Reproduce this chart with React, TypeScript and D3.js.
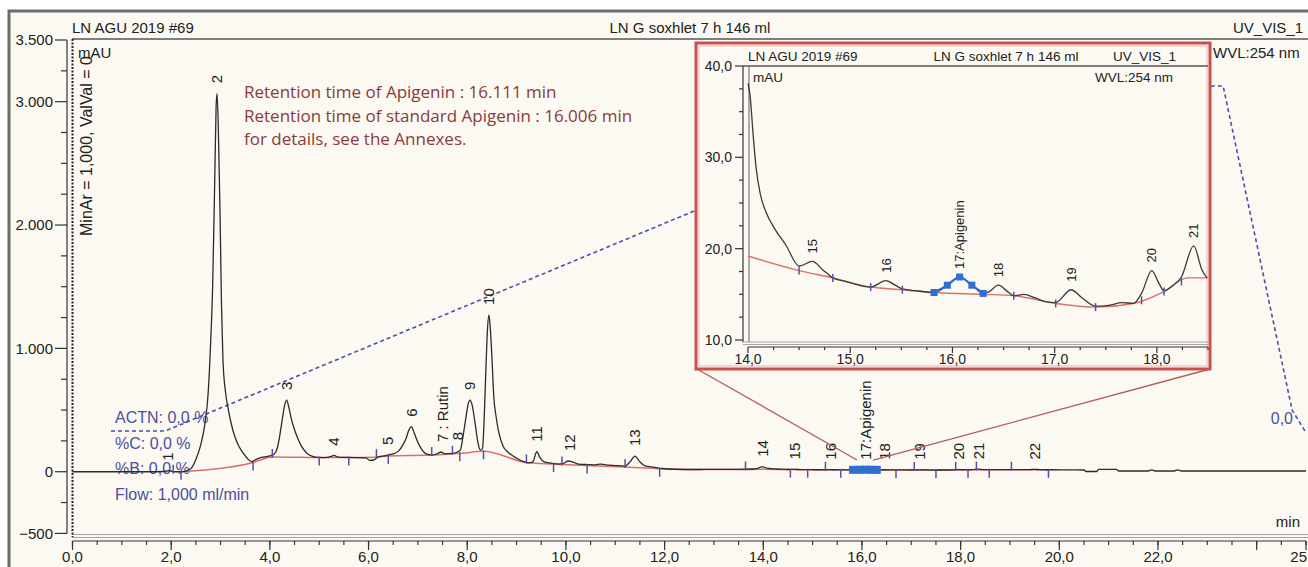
import React from 'react';
import * as d3 from 'd3';

// main chromatogram (mAU vs min), the 14–18.5 min part comes from the zoom arrays
const traceTime = [0, 1.5, 1.85, 1.94, 2.05, 2.2, 2.3, 2.4, 2.5, 2.6, 2.68, 2.75, 2.8, 2.84, 2.88, 2.91, 2.93, 2.96, 2.99, 3.02, 3.05, 3.1, 3.16, 3.22, 3.29, 3.38, 3.46, 3.55, 3.63, 3.7, 3.8, 3.9, 4.0, 4.08, 4.15, 4.2, 4.25, 4.3, 4.34, 4.38, 4.44, 4.5, 4.58, 4.66, 4.75, 4.85, 4.95, 5.1, 5.25, 5.3, 5.38, 5.7, 5.95, 6.02, 6.1, 6.2, 6.35, 6.42, 6.5, 6.6, 6.7, 6.76, 6.82, 6.87, 6.92, 6.98, 7.05, 7.12, 7.2, 7.3, 7.4, 7.47, 7.55, 7.7, 7.8, 7.86, 7.92, 7.97, 8.02, 8.06, 8.1, 8.16, 8.22, 8.27, 8.31, 8.35, 8.38, 8.41, 8.44, 8.47, 8.5, 8.54, 8.58, 8.63, 8.73, 8.82, 8.9, 9.0, 9.14, 9.25, 9.33, 9.41, 9.48, 9.56, 9.7, 9.85, 9.95, 10.05, 10.12, 10.25, 10.45, 10.6, 10.7, 10.8, 11.0, 11.2, 11.3, 11.4, 11.5, 11.6, 11.8, 11.95, 12.2, 12.6, 13.0, 13.5, 13.8, 13.9, 13.96,
  18.55, 18.7, 18.9, 19.1, 19.4, 19.5, 19.6, 19.8, 20.3, 20.5, 20.54, 20.76, 20.8, 21.16, 21.2, 21.8, 21.87, 21.94, 22.33, 22.4, 22.48, 25];
const traceMau = [0, 0, 2, 8, 0, 0, 5, 25, 100, 220, 380, 640, 1050, 1500, 2300, 2950, 3068, 2700, 2100, 1350, 900, 650, 500, 385, 285, 200, 150, 105, 82, 95, 112, 120, 128, 140, 190, 290, 420, 540, 581, 530, 420, 340, 258, 195, 150, 126, 116, 115, 125, 132, 118, 115, 112, 92, 95, 120, 130, 138, 145, 165, 220, 270, 340, 365, 320, 258, 200, 160, 140, 135, 148, 160, 145, 148, 160, 175, 300, 430, 550, 581, 540, 392, 230, 175, 190, 500, 850, 1150, 1271, 1150, 932, 600, 460, 338, 205, 160, 135, 110, 82, 72, 80, 162, 110, 80, 70, 62, 68, 87, 82, 62, 58, 56, 62, 56, 50, 46, 80, 127, 80, 48, 36, 26, 20, 18, 19, 19, 22, 30, 40,
  16.5, 16.8, 17.5, 16.5, 17, 19, 17, 16, 15, 14, 2, 2, 19, 19, 6, 6, 15, 6, 6, 15, 6, 6];

const baseTime = [2.2, 3.66, 4.05, 5.0, 5.6, 6.16, 6.4, 7.28, 7.7, 7.89, 8.33, 9.2, 9.75, 10.43, 11.2, 11.9, 12.5, 13.64, 13.99, 18.6, 19.8];
const baseMau = [0, 75, 120, 116, 115, 118, 128, 135, 145, 150, 165, 75, 62, 50, 38, 24, 19, 19, 19.2, 16.8, 15];

// zoomed window 14–18.5 min
const zoomTime = [14.0, 14.02, 14.05, 14.08, 14.12, 14.18, 14.26, 14.37, 14.5, 14.63, 14.73, 14.83, 14.96, 15.12, 15.2, 15.35, 15.44, 15.51, 15.64, 15.82, 15.95, 16.07, 16.19, 16.3, 16.36, 16.45, 16.54, 16.6, 16.7, 16.81, 16.91, 17.01, 17.16, 17.27, 17.4, 17.53, 17.66, 17.77, 17.85, 17.95, 18.02, 18.07, 18.16, 18.24, 18.36, 18.44, 18.49];
const zoomMau = [38.1, 36.8, 32.5, 28.8, 26.0, 23.9, 22.2, 20.4, 18.1, 18.6, 17.7, 16.8, 16.4, 15.9, 15.8, 16.5, 16.0, 15.6, 15.4, 15.2, 16.0, 16.9, 16.0, 15.1, 15.3, 16.0, 15.3, 14.85, 15.0, 14.6, 14.2, 14.1, 15.5, 14.6, 13.7, 13.8, 14.1, 14.0, 15.1, 17.6, 16.2, 15.4, 16.0, 16.9, 20.3, 17.7, 16.8];
const zoomBaseTime = [14.0, 14.5, 14.83, 15.2, 15.51, 15.82, 16.3, 16.6, 17.01, 17.4, 17.77, 18.07, 18.3, 18.5];
const zoomBaseMau = [19.2, 17.6, 16.8, 15.8, 15.5, 15.2, 15.0, 14.85, 14.0, 13.6, 14.0, 15.3, 16.8, 16.8];
const zoomTickTimes = [14.5, 14.83, 15.2, 15.51, 16.6, 17.01, 17.4, 17.85, 18.07, 18.24];
const apigeninTimes = [15.82, 15.95, 16.07, 16.19, 16.3];

const peakLabels = ['1', '2', '3', '4', '5', '6', '7 : Rutin', '8', '9', '10', '11', '12', '13', '14', '15', '16', '17:Apigenin', '18', '19', '20', '21', '22'];
const peakTimes = [1.94, 2.92, 4.34, 5.29, 6.38, 6.87, 7.5, 7.8, 8.06, 8.44, 9.41, 10.08, 11.4, 13.98, 14.63, 15.36, 16.08, 16.46, 17.18, 17.97, 18.37, 19.5];
const peakApex = [8, 3068, 581, 130, 135, 365, 160, 175, 581, 1271, 162, 87, 127, 40, 18.6, 16.5, 16.9, 16, 15.5, 17.6, 20.3, 18];

const zoomLabels = ['15', '16', '17:Apigenin', '18', '19', '20', '21'];
const zoomPeakTimes = [14.63, 15.35, 16.07, 16.45, 17.16, 17.95, 18.36];
const zoomPeakApex = [18.6, 16.5, 16.9, 16.0, 15.5, 17.6, 20.3];

const tickUpTimes = [2.04, 4.05, 6.16, 7.28, 7.7, 9.2, 9.92, 11.2, 13.64, 15.26, 17.06, 17.9, 18.32, 19.03];
const tickDownTimes = [2.2, 3.66, 5.0, 5.6, 6.4, 7.85, 8.33, 9.75, 10.43, 11.9, 14.55, 14.9, 15.57, 16.69, 17.5, 18.15, 18.58, 19.78];

// solvent gradient (dashed)
const gradTime = [0.78, 1.88, 16.0, 23.12, 23.32, 24.72, 24.98];
const gradPct = [0, 0, 84, 100, 100, 6, 0];

const yTicks = [-500, 0, 1000, 2000, 3000, 3500];
const xTickLabels = [0, 2, 4, 6, 8, 10, 12, 14, 16, 18, 20, 22];
const zoomYTicks = [10, 20, 30, 40];
const zoomXTicks = [14, 15, 16, 17, 18];

const noteLines = [
  'Retention time of Apigenin : 16.111 min',
  'Retention time of standard Apigenin : 16.006 min',
  'for details, see the Annexes.',
];
const methodLines = ['ACTN: 0,0 %', '%C: 0,0 %', '%B: 0,0 %', 'Flow: 1,000 ml/min'];

const SANS = "'Liberation Sans', Arial, sans-serif";
const CREAM = '#fbf9f1';
const BLUE_TXT = '#4d4f9e';
const TICK_PURPLE = '#5b4ea8';
const API_BLUE = '#2f6fd0';

const fmtComma = (v: number) => d3.format('.1f')(v).replace('.', ',');
const fmtThousands = (v: number) => d3.format(',')(v).replace(/,/g, '.');

export default function App() {
  const x = d3.scaleLinear().domain([0, 25]).range([72.5, 1306]);
  const y = d3.scaleLinear().domain([-500, 3500]).range([533.4, 40]);
  const yGrad = d3.scaleLinear().domain([0, 100]).range([431, 86]);
  const xi = d3.scaleLinear().domain([14, 18.5]).range([748, 1208]);
  const yi = d3.scaleLinear().domain([10, 40]).range([340, 66]);

  const mainPts = (d3.zip(traceTime, traceMau) as [number, number][])
    .concat(d3.zip(zoomTime, zoomMau) as [number, number][])
    .sort((a, b) => a[0] - b[0]);
  const basePts = (d3.zip(baseTime, baseMau) as [number, number][])
    .concat(d3.zip(zoomBaseTime, zoomBaseMau) as [number, number][])
    .sort((a, b) => a[0] - b[0]);
  const baseAt = d3.scaleLinear().domain(basePts.map(d => d[0])).range(basePts.map(d => d[1]));
  const mainAt = d3.scaleLinear().domain(mainPts.map(d => d[0])).range(mainPts.map(d => d[1]));
  const zoomAt = d3.scaleLinear().domain(zoomTime).range(zoomMau);
  const zoomBaseAt = d3.scaleLinear().domain(zoomBaseTime).range(zoomBaseMau);

  const mainLine = d3.line<[number, number]>().x(d => x(d[0])).y(d => y(d[1])).curve(d3.curveMonotoneX);
  const zoomLine = d3.line<[number, number]>().x(d => xi(d[0])).y(d => yi(d[1])).curve(d3.curveMonotoneX);
  const gradLine = d3.line<[number, number]>().x(d => x(d[0])).y(d => yGrad(d[1]));

  const apiFirst = apigeninTimes[0];
  const apiLast = apigeninTimes[apigeninTimes.length - 1];
  const apiPts = mainPts.filter(d => d[0] >= apiFirst && d[0] <= apiLast);
  const zoomApiPts = (d3.zip(zoomTime, zoomMau) as [number, number][])
    .filter(d => d[0] >= apiFirst && d[0] <= apiLast);

  const yMinor = d3.range(-500, 3501, 250).filter(v => !yTicks.includes(v));
  const xMinor = d3.range(0, 25.01, 0.5);
  const xMajor = d3.range(0, 25.01, 2).concat([25]);
  const yiMinor = d3.range(10, 40.01, 2.5);
  const xiMinor = d3.range(14, 18.51, 0.25);

  const connY = y(95);

  return (
    <div style={{ position: 'absolute', left: 0, top: 0 }}>
      <svg width={1308} height={567} style={{ display: 'block', fontFamily: SANS, whiteSpace: 'pre' }}>
        <rect width={1308} height={567} fill="#ffffff" />
        <rect x={9} y={11} width={1310} height={570} fill={CREAM} stroke="#6d6d6d" strokeWidth={3} />

        {/* header */}
        <text x={72} y={33} fontSize={15} fill="#222">LN AGU 2019 #69</text>
        <text x={690} y={33} fontSize={15} fill="#222" textAnchor="middle">LN G soxhlet 7 h  146 ml</text>
        <text x={1303} y={33} fontSize={15} fill="#222" textAnchor="end">UV_VIS_1</text>
        <text x={1213} y={58} fontSize={15} fill="#222">WVL:254 nm</text>

        {/* plot frame */}
        <line x1={72} x2={1308} y1={39} y2={39} stroke="#555" strokeWidth={1.5} />
        <line x1={72} x2={1308} y1={534.5} y2={534.5} stroke="#a5a5a5" strokeWidth={1} />
        <line x1={72} x2={1308} y1={537.5} y2={537.5} stroke="#a5a5a5" strokeWidth={1} />
        <line x1={72.5} x2={72.5} y1={39} y2={537} stroke="#222" strokeWidth={2} strokeDasharray="2,1.5" />

        {/* y axis */}
        <line x1={67} x2={67} y1={y(3500)} y2={y(-500)} stroke="#333" strokeWidth={1.2} />
        {yTicks.map(v => (
          <g key={'yt' + v}>
            <line x1={55} x2={67} y1={y(v)} y2={y(v)} stroke="#333" strokeWidth={1.2} />
            <text x={53} y={y(v)} dy="0.35em" fontSize={15} fill="#222" textAnchor="end">{fmtThousands(v)}</text>
          </g>
        ))}
        {yMinor.map(v => (
          <line key={'ym' + v} x1={61} x2={67} y1={y(v)} y2={y(v)} stroke="#333" strokeWidth={1.2} />
        ))}

        {/* x axis */}
        <line x1={x(0)} x2={x(25)} y1={541} y2={541} stroke="#333" strokeWidth={1.2} />
        {xMinor.map(v => (
          <line key={'xm' + v} x1={x(v)} x2={x(v)} y1={541} y2={545} stroke="#333" strokeWidth={1.2} />
        ))}
        {xMajor.map(v => (
          <line key={'xM' + v} x1={x(v)} x2={x(v)} y1={541} y2={550} stroke="#333" strokeWidth={1.2} />
        ))}
        {xTickLabels.map(v => (
          <text key={'xl' + v} x={x(v)} y={562} fontSize={15} fill="#222" textAnchor="middle">{fmtComma(v)}</text>
        ))}
        <text x={1307} y={562} fontSize={15} fill="#222" textAnchor="end">25</text>
        <text x={1300} y={527} fontSize={15} fill="#222" textAnchor="end">min</text>

        {/* side notes */}
        <text transform="translate(92,236) rotate(-90)" fontSize={16} fill="#222">MinAr = 1,000, ValVal = 0</text>
        <text x={78} y={58} fontSize={15} fill="#222">mAU</text>

        {noteLines.map((s, i) => (
          <text key={'n' + i} x={244} y={98 + i * 23.5} fontSize={17} fill="#8a3b3b" fontFamily="'Open Sans', sans-serif">{s}</text>
        ))}

        {/* gradient */}
        <path d={gradLine(d3.zip(gradTime, gradPct) as [number, number][]) || ''} fill="none" stroke="#4b4fa6" strokeWidth={1.6} strokeDasharray="4,3" />
        {methodLines.map((s, i) => (
          <text key={'m' + i} x={115} y={423 + i * 25.5} fontSize={16} fill={BLUE_TXT}>{s}</text>
        ))}
        <text x={1293} y={424} fontSize={16} fill={BLUE_TXT} textAnchor="end">0,0</text>

        {/* baseline + trace */}
        <path d={mainLine(basePts) || ''} fill="none" stroke="#d9726c" strokeWidth={1.5} />
        <path d={mainLine(mainPts) || ''} fill="none" stroke="#2b2b2b" strokeWidth={1.3} />
        {tickUpTimes.map(t => (
          <line key={'tu' + t} x1={x(t)} x2={x(t)} y1={y(baseAt(t)) - 8} y2={y(baseAt(t)) + 1} stroke={TICK_PURPLE} strokeWidth={1.5} />
        ))}
        {tickDownTimes.map(t => (
          <line key={'td' + t} x1={x(t)} x2={x(t)} y1={y(baseAt(t)) - 1} y2={y(baseAt(t)) + 8} stroke={TICK_PURPLE} strokeWidth={1.5} />
        ))}
        <path d={mainLine(apiPts) || ''} fill="none" stroke={API_BLUE} strokeWidth={7} />
        {apigeninTimes.map(t => (
          <rect key={'map' + t} x={x(t) - 4} y={y(mainAt(t)) - 4} width={8} height={8} fill={API_BLUE} />
        ))}
        {peakLabels.map((s, i) => (
          <text key={'pl' + i} transform={`translate(${x(peakTimes[i])},${y(peakApex[i]) - 10}) rotate(-90)`} dy="0.35em" fontSize={15} fill="#222">{s}</text>
        ))}

        {/* connectors to the zoom window */}
        <line x1={697} y1={369} x2={x(15.9)} y2={connY} stroke="#b35b5b" strokeWidth={1.3} />
        <line x1={1210} y1={369} x2={x(16.23)} y2={connY} stroke="#b35b5b" strokeWidth={1.3} />

        {/* zoom window */}
        <g>
          <rect x={696} y={43} width={514} height={326} fill={CREAM} stroke="#c8504c" strokeWidth={3} />
          <rect x={699} y={46} width={508} height={320} fill="none" stroke="#e9b3b0" strokeWidth={1} />
          <text x={748} y={61} fontSize={13.5} fill="#222">LN AGU 2019 #69</text>
          <text x={1006} y={61} fontSize={13.5} fill="#222" textAnchor="middle">LN G soxhlet 7 h  146 ml</text>
          <text x={1176} y={61} fontSize={13.5} fill="#222" textAnchor="end">UV_VIS_1</text>
          <line x1={743} x2={1208} y1={66} y2={66} stroke="#555" strokeWidth={1.3} />
          <text x={753} y={82} fontSize={13.5} fill="#222">mAU</text>
          <text x={1173} y={82} fontSize={13.5} fill="#222" textAnchor="end">WVL:254 nm</text>

          <line x1={743} x2={743} y1={66} y2={342} stroke="#333" strokeWidth={1.2} />
          <line x1={749} x2={749} y1={66} y2={342} stroke="#777" strokeWidth={1.2} />
          {yiMinor.map(v => (
            <line key={'yim' + v} x1={zoomYTicks.includes(v) ? 735 : 739} x2={743} y1={yi(v)} y2={yi(v)} stroke="#333" strokeWidth={1.2} />
          ))}
          {zoomYTicks.map(v => (
            <text key={'yil' + v} x={732} y={yi(v)} dy="0.35em" fontSize={14} fill="#222" textAnchor="end">{fmtComma(v)}</text>
          ))}
          <line x1={743} x2={1208} y1={342} y2={342} stroke="#a5a5a5" />
          <line x1={743} x2={1208} y1={344.5} y2={344.5} stroke="#a5a5a5" />
          <line x1={748} x2={1208} y1={347} y2={347} stroke="#333" strokeWidth={1.2} />
          {xiMinor.map(v => (
            <line key={'xim' + v} x1={xi(v)} x2={xi(v)} y1={347} y2={zoomXTicks.includes(v) ? 353 : 350} stroke="#333" strokeWidth={1.2} />
          ))}
          {zoomXTicks.map(v => (
            <text key={'xil' + v} x={xi(v)} y={364} fontSize={14} fill="#222" textAnchor="middle">{fmtComma(v)}</text>
          ))}

          <path d={zoomLine(d3.zip(zoomBaseTime, zoomBaseMau) as [number, number][]) || ''} fill="none" stroke="#d9726c" strokeWidth={1.4} />
          <path d={zoomLine(d3.zip(zoomTime, zoomMau) as [number, number][]) || ''} fill="none" stroke="#3a3a3a" strokeWidth={1.3} />
          <path d={zoomLine(zoomApiPts) || ''} fill="none" stroke={API_BLUE} strokeWidth={2.2} />
          {apigeninTimes.map(t => (
            <rect key={'ap' + t} x={xi(t) - 3.5} y={yi(zoomAt(t)) - 3.5} width={7} height={7} fill={API_BLUE} />
          ))}
          {zoomTickTimes.map(t => (
            <line key={'zt' + t} x1={xi(t)} x2={xi(t)} y1={yi(zoomBaseAt(t)) - 4} y2={yi(zoomBaseAt(t)) + 4} stroke={TICK_PURPLE} strokeWidth={1.5} />
          ))}
          {zoomLabels.map((s, i) => (
            <text key={'zl' + i} transform={`translate(${xi(zoomPeakTimes[i])},${yi(zoomPeakApex[i]) - 8}) rotate(-90)`} dy="0.35em" fontSize={13} fill="#222">{s}</text>
          ))}
        </g>
      </svg>
    </div>
  );
}
